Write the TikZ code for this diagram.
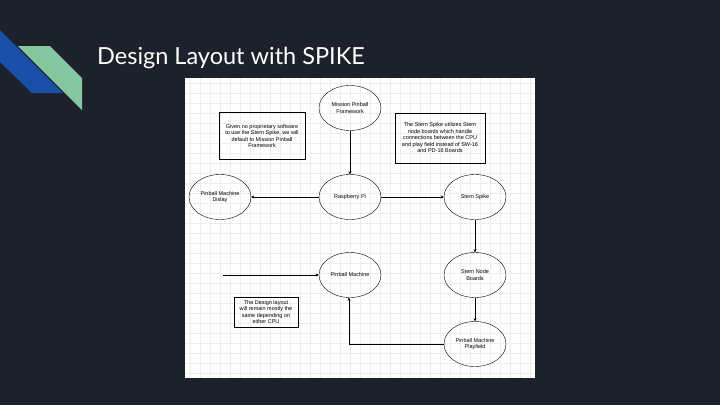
\documentclass[tikz,border=0pt]{standalone}
\usepackage{fontspec}
\setmainfont{Liberation Sans}
\newfontfamily\titlefont{Lato}
\usetikzlibrary{shapes.geometric,arrows.meta}
\definecolor{slidebg}{HTML}{1C212B}
\definecolor{bandblue}{HTML}{1A4FA8}
\definecolor{bandgreen}{HTML}{86C6A0}
\tikzset{
  blob/.style={ellipse, draw, thin, minimum width=62pt, minimum height=45pt, align=center, font=\fontsize{5.5}{6.5}\selectfont, inner sep=1pt},
  note/.style={draw, thin, align=center, font=\fontsize{5.5}{6.5}\selectfont, inner sep=1pt},
  flow/.style={-{Stealth[length=3pt,width=3pt]}, thin}
}
\begin{document}
\begin{tikzpicture}[x=1pt, y=-1pt]
        \fill[slidebg] (0,0) rectangle (720,405);
        \useasboundingbox (0,0) rectangle (720,405);

        % corner bands
        \fill[bandblue] (0,30) -- (63,93) -- (32,93) -- (0,62) -- cycle;
        \fill[bandgreen] (18,46) -- (50,46) -- (82,78) -- (82,110) -- cycle;

        \node[anchor=base west, inner sep=0pt, text=white, font=\titlefont\fontsize{23.5}{28}\selectfont] (title) at (97,64) {Design Layout with SPIKE};

        % panel and grid
        \fill[white] (185,78) rectangle (535,378);
        \foreach \x in {190,200,...,530} {
            \draw[black!7, very thin] (\x,78) -- (\x,378);
        }
        \foreach \y in {83,93,...,373} {
            \draw[black!7, very thin] (185,\y) -- (535,\y);
        }

        \node[blob] (mpf) at (350,108) {Mission Pinball\\Framework};
        \node[blob] (disp) at (220,197) {Pinball Machine\\Dislay};
        \node[blob] (rpi) at (350,197) {Raspberry Pi};
        \node[blob] (spike) at (475,197) {Stern Spike};
        \node[blob] (pm) at (350,275) {Pinball Machine};
        \node[blob] (nodes) at (475,275) {Stern Node\\Boards};
        \node[blob] (play) at (475,344) {Pinball Machine\\Playfield};

        \node[note, minimum width=86pt, minimum height=47pt] (leftnote) at (262,136) {Given no proprietary software\\to use the Stern Spike, we will\\default to Mission Pinball\\Framework};
        \node[note, minimum width=90pt, minimum height=50pt] (rightnote) at (440,138) {The Stern Spike utilizes Stern\\node boards which handle\\connections between the CPU\\and play field instead of SW-16\\and PD-16 Boards};
        \node[note, minimum width=64pt, minimum height=30pt] (botnote) at (266,312) {The Design layout\\will remain mostly the\\same depending on\\either CPU};

        \coordinate (feed) at (223,275);
        \coordinate (bend) at (349,344);

        \draw[flow] (mpf) -- (rpi);
        \draw[flow] (rpi) -- (disp);
        \draw[flow] (rpi) -- (spike);
        \draw[flow, semithick] (spike) -- (nodes);
        \draw[flow, semithick] (nodes) -- (play);
        \draw[flow] (feed) -- (pm);
        \draw[flow] (play.west) -- (bend) -- (pm.south -| bend);
\end{tikzpicture}
\end{document}
